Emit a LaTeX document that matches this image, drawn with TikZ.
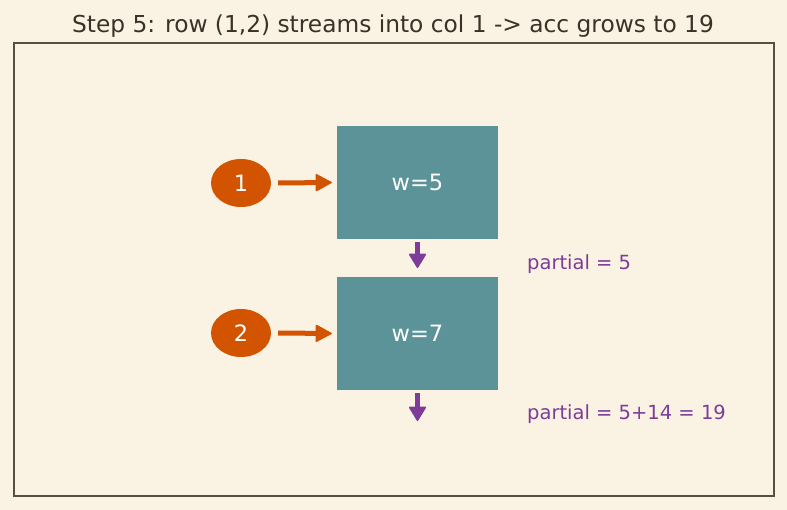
\documentclass[tikz,border=0pt]{standalone}
\usepackage{fontspec}
\setmainfont{DejaVu Sans}
\usetikzlibrary{arrows.meta,shapes.geometric}
\definecolor{bg}{HTML}{FAF3E3}
\definecolor{frame}{HTML}{5A4F3F}
\definecolor{teal}{HTML}{5B9398}
\definecolor{orng}{HTML}{D35400}
\definecolor{purp}{HTML}{7D3C98}
\definecolor{ttl}{HTML}{3A3228}
\tikzset{
  wbox/.style={fill=teal, draw=none, minimum width=161pt, minimum height=113pt, text=white, font=\fontsize{22.5}{26}\selectfont, inner sep=0pt},
  inp/.style={ellipse, fill=orng, draw=none, minimum width=60pt, minimum height=48pt, text=white, font=\fontsize{22.5}{26}\selectfont, inner sep=0pt},
  inarrow/.style={draw=orng, line width=5pt, -{Triangle[length=17pt 0 0,width=18pt 0 0,line width=1.5pt,round]}},
  outarrow/.style={draw=purp, line width=5pt, -{Triangle[length=15pt 0 0,width=18pt 0 0,line width=1.5pt,round]}},
  plabel/.style={text=purp, font=\fontsize{19.5}{23}\selectfont, anchor=west, inner sep=0pt},
}
\begin{document}
\begin{tikzpicture}[x=1pt,y=-1pt]
\fill[bg] (0,0) rectangle (787,510);
\useasboundingbox (0,0) rectangle (787,510);
\node[text=ttl, font=\fontsize{23.3}{27}\selectfont] (title) at (393,26) {Step 5: row (1,2) streams into col 1 -> acc grows to 19};
\draw[frame, line width=1.3pt] (14,43) rectangle (774,496);
\node[wbox] (b1) at (417.5,182.5) {w=5};
\node[wbox] (b2) at (417.5,333.5) {w=7};
\node[inp] (i1) at (241,183) {1};
\node[inp] (i2) at (241,333) {2};
\draw[inarrow] (i1.east) ++(7,0) coordinate (s1) -- ([xshift=-5pt]b1.west);
\draw[inarrow] (i2.east) ++(7,0) coordinate (s2) -- ([xshift=-5pt]b2.west);
\coordinate (o1s) at (417.5,242);
\coordinate (o1e) at (417.5,268);
\coordinate (o2s) at (417.5,393);
\coordinate (o2e) at (417.5,421);
\draw[outarrow] (o1s) -- (o1e);
\draw[outarrow] (o2s) -- (o2e);
\node[plabel] (p1) at (527,264) {partial = 5};
\node[plabel] (p2) at (527,414.5) {partial = 5+14 = 19};
\end{tikzpicture}
\end{document}
